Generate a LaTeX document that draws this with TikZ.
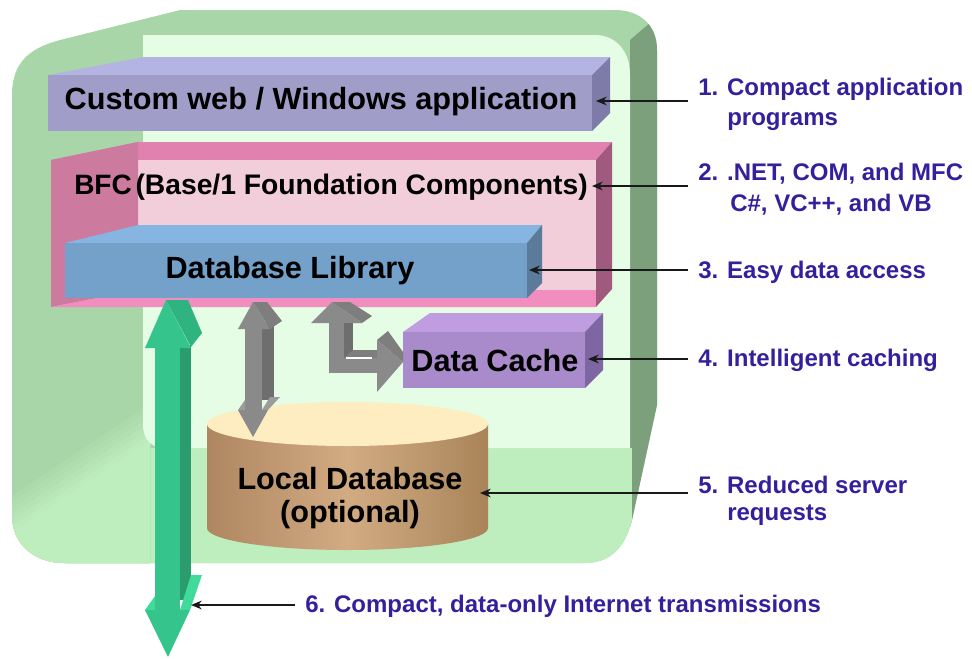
\documentclass[tikz,border=0pt]{standalone}
\usepackage{fontspec}
\setmainfont{Liberation Sans}
\usetikzlibrary{arrows.meta}
\definecolor{outerG}{HTML}{A8D6A8}
\definecolor{darkG}{HTML}{7C9F7C}
\definecolor{floorG}{HTML}{BEEDBE}
\definecolor{innerG}{HTML}{E5FCE5}
\definecolor{cTop}{HTML}{B4B4E2}
\definecolor{cFront}{HTML}{A09EC8}
\definecolor{cSide}{HTML}{7E7BA9}
\definecolor{bTop}{HTML}{E081AF}
\definecolor{bLeft}{HTML}{CD7A9F}
\definecolor{bBack}{HTML}{F2CDDA}
\definecolor{bFloor}{HTML}{F18DBF}
\definecolor{bSide}{HTML}{A05A7E}
\definecolor{dTop}{HTML}{86B5E1}
\definecolor{dFront}{HTML}{74A1C9}
\definecolor{dSide}{HTML}{5B7B9B}
\definecolor{kTop}{HTML}{C09DE0}
\definecolor{kFront}{HTML}{A98ACA}
\definecolor{kSide}{HTML}{7E66A2}
\definecolor{gFront}{HTML}{35C48B}
\definecolor{gSide}{HTML}{2A9C6D}
\definecolor{gFacet}{HTML}{30B47F}
\definecolor{gLedge}{HTML}{40DA9B}
\definecolor{yFront}{HTML}{8A8A8A}
\definecolor{ySide}{HTML}{6E6E6E}
\definecolor{yFacet}{HTML}{7E7E7E}
\definecolor{yLedge}{HTML}{9C9C9C}
\definecolor{cylTop}{HTML}{FEEDC1}
\definecolor{cylL}{HTML}{AE8761}
\definecolor{cylM}{HTML}{D2AB83}
\definecolor{cylR}{HTML}{A98459}
\definecolor{labC}{HTML}{34209C}
\tikzset{
  boxtext/.style={inner sep=0pt, font=\fontsize{23}{26}\selectfont\bfseries, text=black},
  lab/.style={inner sep=0pt, anchor=west, font=\fontsize{18}{20}\selectfont\bfseries, text=labC},
  conn/.style={draw={rgb,255:red,25;green,25;blue,25}, line width=1.1pt,
    -{Stealth[length=8pt,width=6.5pt,inset=2.5pt]}},
}
\begin{document}
\begin{tikzpicture}[x=0.75pt,y=-0.75pt]
\useasboundingbox (0,0) rectangle (972,658);
% ---------- outer green housing ----------
\def\outerpath{(12,515) -- (12,95) .. controls (12,62) and (30,48) .. (60,40) -- (180,10) -- (615,10) .. controls (640,10) and (657,25) .. (657,50) -- (657,405) -- (632,520) .. controls (625,548) and (610,563) .. (585,563) -- (65,563) .. controls (35,563) and (12,545) .. (12,515) -- cycle}
\fill[outerG] \outerpath;
\begin{scope}
  \clip \outerpath;
  \fill[darkG] (630,75) -- (630,40) -- (700,-20) -- (700,700) -- (630,700) -- cycle;
  \fill[floorG] (143,448) rectangle (632,700);
  \begin{scope}
    \clip (0,370) rectangle (150,700);
    \foreach \k/\c in {0/85,1/70,2/55,3/40,4/25,5/10,6/0} {
      \fill[outerG!\c!floorG] ({6+2.8*\k-270},{500+4.2*\k+180}) -- ({6+2.8*\k+270},{500+4.2*\k-180})
        -- ({6+2.8*\k+570},{500+4.2*\k+270}) -- ({6+2.8*\k+30},{500+4.2*\k+630}) -- cycle;
    }
  \end{scope}
\end{scope}
\fill[innerG] (143,425) -- (143,35) -- (595,35) .. controls (615,35) and (630,50) .. (630,75) -- (630,448) -- (165,448) .. controls (152,448) and (143,440) .. (143,425) -- cycle;
% ---------- Custom web box ----------
\fill[cTop] (48,75) -- (143,57) -- (610,57) -- (592,75) -- cycle;
\fill[cFront] (48,75) rectangle (592,131);
\fill[cSide] (592,75) -- (610,57) -- (610,113) -- (592,131) -- cycle;
\node[boxtext] (app) at (321,102) {Custom web / Windows application};
% ---------- BFC box ----------
\fill[bTop] (51,160) -- (138,142) -- (612,142) -- (596,160) -- cycle;
\fill[bBack] (138,160) rectangle (596,290);
\fill[bLeft] (51,160) -- (138,142) -- (138,290) -- (51,307) -- cycle;
\fill[bFloor] (51,307) -- (138,290) -- (596,290) -- (596,307) -- cycle;
\fill[bSide] (596,160) -- (612,142) -- (612,289) -- (596,307) -- cycle;
\node[inner sep=0pt, anchor=west, text=black] (bfc) at (74,187)
  {\bfseries{\fontsize{21}{24}\selectfont BFC} {\fontsize{21.2}{24}\selectfont (Base/1 Foundation Components)}};
% ---------- Database Library box ----------
\fill[dTop] (65,243) -- (138,225) -- (542,225) -- (527,243) -- cycle;
\fill[dFront] (65,243) rectangle (527,298);
\fill[dSide] (527,243) -- (542,225) -- (542,283) -- (527,298) -- cycle;
\node[boxtext] (dblib) at (290,271) {Database Library};
% ---------- Local database cylinder ----------
\shade[left color=cylL, right color=cylR, middle color=cylM]
  (207,424) -- (207,528) arc[start angle=180, end angle=0, x radius=140.5, y radius=22] -- (488,424) -- cycle;
\fill[cylTop] (347.5,424) ellipse[x radius=140.5, y radius=22];
\node[boxtext, align=center] (localdb) at (350,498) {Local Database\\[-1pt](optional)};
% ---------- Data Cache box ----------
\fill[kTop] (403,332) -- (430,313) -- (603,313) -- (585,332) -- cycle;
\fill[kFront] (403,332) rectangle (585,388);
\fill[kSide] (585,332) -- (603,313) -- (603,370) -- (585,388) -- cycle;
\node[boxtext] (cache) at (495,361) {Data Cache};
% ---------- green Internet double arrow ----------
\fill[gSide] (179,345) rectangle (191,600);
\fill[gFront] (155,345) rectangle (180,612);
\fill[gFacet] (166,300) -- (188,300) -- (202,333) -- (191,347) -- cycle;
\fill[gFront] (145,348) -- (166,300) -- (191,348) -- cycle;
\fill[gLedge] (180,610) -- (191,575) -- (202,575) -- (190,610) -- cycle;
\fill[gLedge] (145,610) -- (155,596) -- (155,610) -- cycle;
\fill[gFront] (145,610) -- (190,610) -- (168,657) -- cycle;
% ---------- gray double arrow (library <-> local db) ----------
\fill[ySide] (262,322) rectangle (274,400);
\fill[yFront] (245,327) rectangle (262,410);
\fill[yFacet] (253,302) -- (267,302) -- (282,321) -- (270,329) -- cycle;
\fill[yFront] (238,329) -- (253,302) -- (270,329) -- cycle;
\fill[yLedge] (262,410) -- (270,397) -- (280,397) -- (268,410) -- cycle;
\fill[yLedge] (238,410) -- (245,400) -- (245,410) -- cycle;
\fill[yFront] (238,410) -- (268,410) -- (253,437) -- cycle;
% ---------- gray L arrow (library <-> cache) ----------
\fill[yFacet] (332,302) -- (350,302) -- (372,316) -- (362,323) -- cycle;
\fill[yFront] (311,323) -- (332,302) -- (362,323) -- cycle;
\fill[ySide] (344,323) rectangle (353,358);
\fill[yFacet] (344,358) -- (353,350) -- (378,350) -- (378,358) -- cycle;
\fill[yFront] (329,323) rectangle (344,373);
\fill[yFront] (329,358) rectangle (378,373);
\draw[white, line width=0.8pt] (346,358) -- (372,358);
\fill[yFacet] (377,340) -- (388,331) -- (403,352) -- (403,362) -- cycle;
\fill[yFront] (377,340) -- (403,362) -- (377,392) -- cycle;
% ---------- target points on the drawing ----------
\coordinate (t1) at (596,101);
\coordinate (t2) at (592,186);
\coordinate (t3) at (529,270);
\coordinate (t4) at (588,359);
\coordinate (t5) at (480,493);
\coordinate (t6) at (191,605);
% ---------- labels ----------
\node[lab] (l1) at (698,89) {1. Compact application};
\node[lab] (l1b) at (727,122) {programs};
\node[lab] (l2) at (698,174) {2. .NET, COM, and MFC};
\node[lab] (l2b) at (730,205) {C\#, VC++, and VB};
\node[lab] (l3) at (698,272) {3. Easy data access};
\node[lab] (l4) at (698,360) {4. Intelligent caching};
\node[lab] (l5) at (698,485) {5. Reduced server};
\node[lab] (l5b) at (727,515) {requests};
\node[lab] (l6) at (305,606) {6. Compact, data-only Internet transmissions};
% ---------- connectors ----------
\draw[conn] ([xshift=-7.5pt]l1.west |- t1) -- (t1);
\draw[conn] ([xshift=-7.5pt]l2.west |- t2) -- (t2);
\draw[conn] ([xshift=-7.5pt]l3.west |- t3) -- (t3);
\draw[conn] ([xshift=-7.5pt]l4.west |- t4) -- (t4);
\draw[conn] ([xshift=-7.5pt]l5.west |- t5) -- (t5);
\draw[conn] ([xshift=-7.5pt]l6.west |- t6) -- (t6);
\end{tikzpicture}
\end{document}
